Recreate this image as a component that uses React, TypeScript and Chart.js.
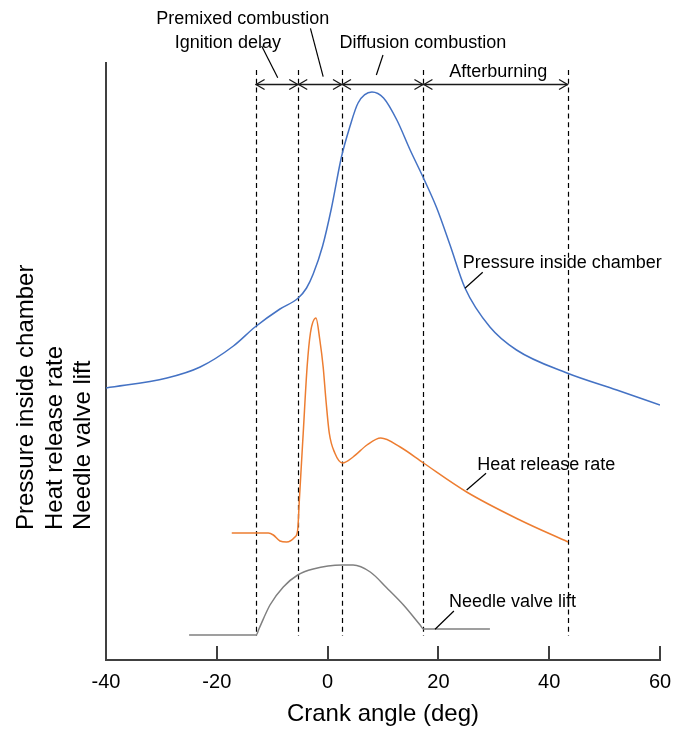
import React, { useEffect, useRef } from "react";
import { Chart, registerables } from "chart.js";

Chart.register(...registerables);

const FONT = "'Liberation Sans', Arial, Helvetica, sans-serif";

// x axis ticks (crank angle, deg)
const xTicks = [-40, -20, 0, 20, 40, 60];

// Pressure inside chamber (arbitrary units)
const pressureX = [-40, -29.0, -23.0, -17.0, -13.1, -8.6, -5.3, -3.8, -2.6, -0.9, 0.7, 2.5, 4.0, 5.5, 8.0, 10.1, 12.5, 14.9, 17.3, 19.7, 22.1, 24.8, 29.3, 34.1, 43.2, 52.2, 60];
const pressureY = [272, 282, 293, 314, 333, 351, 362, 372, 386, 414, 452, 503, 533, 557, 568, 562, 540, 510, 482, 452, 415, 372, 333, 310, 287, 270, 255];

// Heat release rate (arbitrary units)
const heatX = [-17.3, -10.7, -9.8, -8.6, -7.4, -5.9, -5.4, -5.1, -4.4, -3.7, -3.1, -2.1, -1.4, -0.8, -0.3, 0.3, 1.3, 2.7, 4.6, 7.1, 9.6, 13.1, 17.3, 25.1, 34.7, 43.4];
const heatY = [127, 127, 125, 119, 118, 123, 130, 160, 227, 293, 327, 342, 320, 293, 260, 227, 207, 197, 203, 215, 222, 213, 197, 168, 140, 118];

// Needle valve lift (arbitrary units)
const needleX = [-25.0, -12.9, -12.4, -10.4, -8.0, -5.4, -2.6, 2.6, 4.6, 7.7, 10.7, 13.7, 16.7, 17.3, 29.3];
const needleY = [25, 25, 31, 55, 73, 85, 91, 95, 95, 88, 72, 55, 35, 31, 31];

// Combustion phase boundaries (crank angle, deg)
const phaseBounds = [-13.0, -5.3, 2.6, 17.3, 43.4];

const Y_MIN = 0;
const Y_MAX = 597;

// annotation geometry (data coordinates)
const DASH_TOP = 590;
const DASH_BOTTOM = 24;
const ARROW_Y = 576;

const phaseTexts = [
  { text: "Premixed combustion", x: -15.3, y: 636 },
  { text: "Ignition delay", x: -18.0, y: 612 },
  { text: "Diffusion combustion", x: 17.2, y: 612 },
  { text: "Afterburning", x: 30.8, y: 583 },
];
const phaseLeaders = [
  [-11.9, 614, -9.0, 582.3],
  [-3.1, 631.7, -0.8, 583.3],
  [10.0, 605, 8.8, 585],
];
const seriesTexts = [
  { text: "Pressure inside chamber", x: 24.4, y: 392 },
  { text: "Heat release rate", x: 27.0, y: 190 },
  { text: "Needle valve lift", x: 21.9, y: 53 },
];
const seriesLeaders = [
  [24.8, 371.7, 28.0, 387.7],
  [25.1, 170, 28.6, 186.7],
  [19.4, 30.7, 22.8, 49],
];
const yTitleLines = ["Pressure inside chamber", "Heat release rate", "Needle valve lift"];

function pts(xs: number[], ys: number[]) {
  return xs.map((x, i) => ({ x, y: ys[i] }));
}

const overlayPlugin = {
  id: "overlay",
  beforeDatasetsDraw(chart: any) {
    const { ctx, scales } = chart;
    const xs = scales.x;
    const ys = scales.y;
    ctx.save();
    ctx.strokeStyle = "#000";
    ctx.lineWidth = 1.2;
    ctx.setLineDash([5, 3.7]);
    for (const b of phaseBounds) {
      const px = Math.round(xs.getPixelForValue(b)) + 0.5;
      ctx.beginPath();
      ctx.moveTo(px, ys.getPixelForValue(DASH_TOP));
      ctx.lineTo(px, ys.getPixelForValue(DASH_BOTTOM));
      ctx.stroke();
    }
    ctx.restore();
  },
  afterDatasetsDraw(chart: any) {
    const { ctx, scales } = chart;
    const xs = scales.x;
    const ys = scales.y;
    ctx.save();
    // inward tick marks on x axis
    ctx.strokeStyle = "#404040";
    ctx.lineWidth = 2;
    const axisY = ys.getPixelForValue(Y_MIN);
    for (const t of xTicks) {
      const px = Math.round(xs.getPixelForValue(t));
      ctx.beginPath();
      ctx.moveTo(px, axisY);
      ctx.lineTo(px, axisY - 14);
      ctx.stroke();
    }
    // arrows between phase boundaries
    ctx.strokeStyle = "#1a1a1a";
    ctx.lineWidth = 1.3;
    const ay = Math.round(ys.getPixelForValue(ARROW_Y)) + 0.5;
    const x0 = xs.getPixelForValue(phaseBounds[0]);
    const x1 = xs.getPixelForValue(phaseBounds[phaseBounds.length - 1]);
    ctx.beginPath();
    ctx.moveTo(x0, ay);
    ctx.lineTo(x1, ay);
    ctx.stroke();
    for (let i = 0; i < phaseBounds.length - 1; i++) {
      const a = xs.getPixelForValue(phaseBounds[i]);
      const b = xs.getPixelForValue(phaseBounds[i + 1]);
      ctx.beginPath();
      ctx.moveTo(a + 9, ay - 5);
      ctx.lineTo(a + 0.5, ay);
      ctx.lineTo(a + 9, ay + 5);
      ctx.moveTo(b - 9, ay - 5);
      ctx.lineTo(b - 0.5, ay);
      ctx.lineTo(b - 9, ay + 5);
      ctx.stroke();
    }
    // leader lines
    ctx.strokeStyle = "#000";
    ctx.lineWidth = 1.2;
    for (const l of [...phaseLeaders, ...seriesLeaders]) {
      ctx.beginPath();
      ctx.moveTo(xs.getPixelForValue(l[0]), ys.getPixelForValue(l[1]));
      ctx.lineTo(xs.getPixelForValue(l[2]), ys.getPixelForValue(l[3]));
      ctx.stroke();
    }
    // texts
    ctx.fillStyle = "#000";
    ctx.font = `18px ${FONT}`;
    ctx.textBaseline = "alphabetic";
    ctx.textAlign = "center";
    for (const t of phaseTexts) {
      ctx.fillText(t.text, xs.getPixelForValue(t.x), ys.getPixelForValue(t.y));
    }
    ctx.textAlign = "left";
    for (const t of seriesTexts) {
      ctx.fillText(t.text, xs.getPixelForValue(t.x), ys.getPixelForValue(t.y));
    }
    // y axis title (three rotated lines)
    ctx.font = `24px ${FONT}`;
    const left = chart.chartArea.left;
    const startY = 530;
    yTitleLines.forEach((line, i) => {
      ctx.save();
      ctx.translate(left - 73 + i * 28.5, startY);
      ctx.rotate(-Math.PI / 2);
      ctx.textAlign = "left";
      ctx.textBaseline = "alphabetic";
      ctx.fillText(line, 0, 0);
      ctx.restore();
    });
    ctx.restore();
  },
};

export default function App() {
  const ref = useRef<HTMLCanvasElement | null>(null);
  useEffect(() => {
    if (!ref.current) return;
    const chart = new Chart(ref.current, {
      type: "line",
      data: {
        datasets: [
          {
            label: "Pressure inside chamber",
            data: pts(pressureX, pressureY),
            borderColor: "#4472C4",
            borderWidth: 1.5,
            cubicInterpolationMode: "monotone",
          },
          {
            label: "Heat release rate",
            data: pts(heatX, heatY),
            borderColor: "#ED7D31",
            borderWidth: 1.5,
            cubicInterpolationMode: "monotone",
          },
          {
            label: "Needle valve lift",
            data: pts(needleX, needleY),
            borderColor: "#808080",
            borderWidth: 1.5,
            cubicInterpolationMode: "monotone",
          },
        ],
      },
      options: {
        responsive: false,
        animation: false,
        layout: { padding: { top: 63, right: 14, bottom: 0, left: 0 } },
        elements: { point: { radius: 0 } },
        plugins: { legend: { display: false }, tooltip: { enabled: false } },
        scales: {
          x: {
            type: "linear",
            min: -40,
            max: 60,
            afterBuildTicks: (s: any) => {
              s.ticks = xTicks.map((v) => ({ value: v }));
            },
            ticks: {
              padding: 10,
              color: "#000",
              font: { family: FONT, size: 20 },
              maxRotation: 0,
              autoSkip: false,
              callback: (v: any) => String(v),
            },
            grid: { display: false, drawTicks: false },
            border: { display: true, color: "#404040", width: 2 },
            title: {
              display: true,
              text: "Crank angle (deg)",
              color: "#000",
              font: { family: FONT, size: 24 },
              padding: { top: 0, bottom: 2 },
            },
            afterFit: (s: any) => {
              s.height = 71;
              s.paddingLeft = 0;
              s.paddingRight = 0;
            },
          },
          y: {
            type: "linear",
            min: Y_MIN,
            max: Y_MAX,
            ticks: { display: false },
            grid: { display: false, drawTicks: false },
            border: { display: true, color: "#404040", width: 2 },
            afterFit: (s: any) => {
              s.width = 106;
              s.paddingTop = 0;
              s.paddingBottom = 0;
            },
          },
        },
      },
      plugins: [overlayPlugin],
    } as any);
    return () => chart.destroy();
  }, []);
  return (
    <div style={{ position: "absolute", left: 0, top: 0, width: 674, height: 731 }}>
      <canvas ref={ref} width={674} height={731} style={{ display: "block" }} />
    </div>
  );
}
